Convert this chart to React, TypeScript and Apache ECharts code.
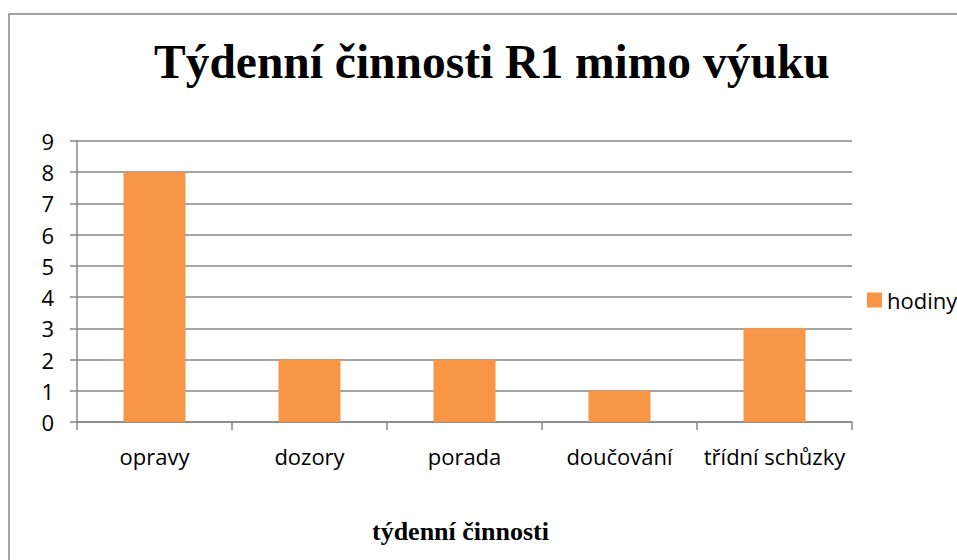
import React, { useEffect, useRef } from "react";
import * as echarts from "echarts";

const titleText = "Týdenní činnosti R1 mimo výuku";
const categories = ["opravy", "dozory", "porada", "doučování", "třídní schůzky"];
const seriesName = "hodiny";
const hours = [8, 2, 2, 1, 3];
const xAxisName = "týdenní činnosti";

export default function App() {
  const ref = useRef<HTMLDivElement>(null);
  useEffect(() => {
    if (!ref.current) return;
    const chart = echarts.init(ref.current, null, { renderer: "svg" });
    const sans = "'Open Sans', Lato, sans-serif";
    const serif = "'Liberation Serif', 'DejaVu Serif', serif";
    chart.setOption({
      animation: false,
      backgroundColor: "#ffffff",
      title: {
        text: titleText,
        left: 149,
        top: 33,
        textStyle: { fontFamily: serif, fontWeight: "bold", fontSize: 47.5, color: "#000" },
      },
      graphic: [
        {
          type: "rect",
          shape: { x: 9, y: 14, width: 1000, height: 600 },
          style: { fill: "none", stroke: "#878787", lineWidth: 1.5 },
          silent: true,
          z: -1,
        },
      ],
      legend: {
        orient: "vertical",
        left: 867,
        top: 289,
        padding: 0,
        itemWidth: 15,
        itemHeight: 15,
        icon: "rect",
        textStyle: { fontFamily: sans, fontSize: 22, color: "#000" },
        data: [seriesName],
      },
      grid: { left: 77, right: 105, top: 141, bottom: 138, containLabel: false },
      xAxis: {
        type: "category",
        data: categories,
        name: xAxisName,
        nameLocation: "middle",
        nameGap: 96,
        nameTextStyle: { fontFamily: serif, fontWeight: "bold", fontSize: 26, color: "#000", padding: [0, 8, 0, 0] },
        axisLine: { show: true, lineStyle: { color: "#878787", width: 1.5 } },
        axisTick: { show: true, length: 8, alignWithLabel: false, lineStyle: { color: "#878787", width: 1.5 } },
        axisLabel: { fontFamily: sans, fontSize: 22, color: "#000", margin: 23, interval: 0 },
      },
      yAxis: {
        type: "value",
        min: 0,
        max: 9,
        interval: 1,
        axisLine: { show: true, lineStyle: { color: "#878787", width: 1.5 } },
        axisTick: { show: true, length: 7, lineStyle: { color: "#878787", width: 1.5 } },
        axisLabel: { fontFamily: sans, fontSize: 22, color: "#000", margin: 23 },
        splitLine: { show: true, lineStyle: { color: "#878787", width: 1.5 } },
      },
      series: [
        {
          name: seriesName,
          type: "bar",
          data: hours,
          barCategoryGap: "60%",
          itemStyle: { color: "#F79646" },
        },
      ],
    });
    return () => chart.dispose();
  }, []);
  return (
    <div
      ref={ref}
      style={{ position: "fixed", left: 0, top: 0, width: 957, height: 560 }}
    />
  );
}
